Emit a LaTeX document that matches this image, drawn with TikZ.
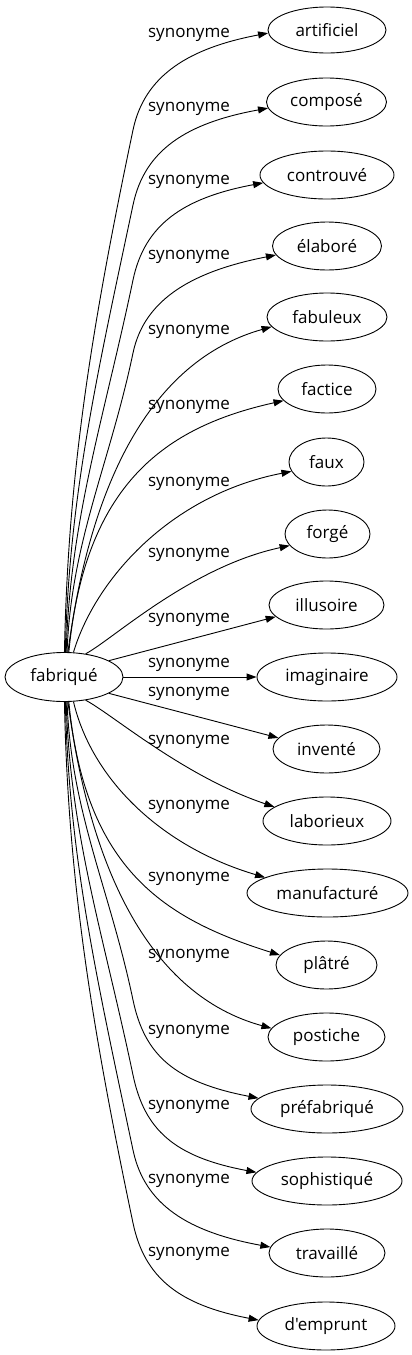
\documentclass[tikz,border=0pt]{standalone}
\usepackage{fontspec}
\newfontfamily\gv{Open Sans}
\usetikzlibrary{arrows.meta,shapes.geometric}
\begin{document}
\begin{tikzpicture}[x=1pt,y=-1pt,
  vert/.style={draw, ellipse, line width=0.9pt, inner sep=0pt, minimum height=48pt, font=\gv\fontsize{17}{20}\selectfont},
  lab/.style={inner sep=0pt, font=\gv\fontsize{17}{20}\selectfont},
  syn/.style={line width=0.9pt, -{Triangle[length=10pt,width=7pt]}}]
\useasboundingbox (0,0) rectangle (412,1355);
\node[vert, minimum width=118pt, minimum height=49pt] (f) at (64,677) {fabriqué};
\node[vert, minimum width=118pt, minimum height=46pt] (n1) at (327,30) {artificiel};
\node[vert, minimum width=120pt] (n2) at (326.5,102) {composé};
\node[vert, minimum width=134pt] (n3) at (327,175) {controuvé};
\node[vert, minimum width=109pt] (n4) at (327,246) {élaboré};
\node[vert, minimum width=120pt] (n5) at (327,317) {fabuleux};
\node[vert, minimum width=98pt] (n6) at (327,389) {factice};
\node[vert, minimum width=75pt] (n7) at (326.5,462) {faux};
\node[vert, minimum width=85pt] (n8) at (327.5,534) {forgé};
\node[vert, minimum width=115pt] (n9) at (326.5,605) {illusoire};
\node[vert, minimum width=140pt] (n10) at (327,677) {imaginaire};
\node[vert, minimum width=107pt] (n11) at (326.5,749) {inventé};
\node[vert, minimum width=128pt] (n12) at (327,821) {laborieux};
\node[vert, minimum width=161pt] (n13) at (327.5,893) {manufacturé};
\node[vert, minimum width=101pt] (n14) at (326.5,965) {plâtré};
\node[vert, minimum width=117pt] (n15) at (326.5,1037) {postiche};
\node[vert, minimum width=152pt] (n16) at (327,1109) {préfabriqué};
\node[vert, minimum width=150pt] (n17) at (327,1181) {sophistiqué};
\node[vert, minimum width=116pt] (n18) at (327,1253) {travaillé};
\node[vert, minimum width=138pt] (n19) at (326,1326) {d'emprunt};
% labels
\node[lab] (l1) at (189,35) {synonyme};
\node[lab] (l2) at (189,109) {synonyme};
\node[lab] (l3) at (189,182) {synonyme};
\node[lab] (l4) at (189,257) {synonyme};
\node[lab] (l5) at (189,332) {synonyme};
\node[lab] (l6) at (189,407) {synonyme};
\node[lab] (l7) at (189,484) {synonyme};
\node[lab] (l8) at (189,555) {synonyme};
\node[lab] (l9) at (189,620) {synonyme};
\node[lab] (l10) at (189,665) {synonyme};
\node[lab] (l11) at (189,694) {synonyme};
\node[lab] (l12) at (189,742) {synonyme};
\node[lab] (l13) at (189,807) {synonyme};
\node[lab] (l14) at (189,879) {synonyme};
\node[lab] (l15) at (189,956) {synonyme};
\node[lab] (l16) at (189,1032) {synonyme};
\node[lab] (l17) at (189,1107) {synonyme};
\node[lab] (l18) at (189,1181) {synonyme};
\node[lab] (l19) at (189,1254) {synonyme};
% edges
\draw[syn] (f.89) .. controls (68,475) and (91,330) .. (133,130) .. controls (144.5,75) and (189.5,48) .. (n1.183);
\draw[syn] (f.87) .. controls (69,497) and (97,375) .. (133,205) .. controls (144.5,150) and (186.5,123) .. (n2.186);
\draw[syn] (f.85) .. controls (70,520) and (103.6,420) .. (133,280) .. controls (144.5,225) and (182.5,198) .. (n3.187);
\draw[syn] (f.83) .. controls (71,542) and (110,463) .. (133,353) .. controls (144.5,298) and (194.5,271) .. (n4.190);
\draw[syn] (f.81) .. controls (90,484) and (150,361) .. (n5.190);
\draw[syn] (f.79) .. controls (85,484) and (165,427) .. (n6.195);
\draw[syn] (f.69) .. controls (95,580) and (170,495) .. (n7.195);
\draw[syn] (f.47) .. controls (112,640) and (190,567) .. (n8.197);
\draw[syn] (f.20) -- (n9.193);
\draw[syn] (f.east) -- (n10.west);
\draw[syn] (f.-20) -- (n11.167);
\draw[syn] (f.-47) .. controls (112,714) and (183,776) .. (n12.165.5);
\draw[syn] (f.-69) .. controls (92,780) and (162,847) .. (n13.166);
\draw[syn] (f.-79) .. controls (85,870) and (165,919) .. (n14.168);
\draw[syn] (f.-81) .. controls (90,870) and (150,995) .. (n15.171);
\draw[syn] (f.-83) .. controls (71,812) and (110,890) .. (133,1000) .. controls (144.5,1055) and (174.5,1082) .. (n16.171);
\draw[syn] (f.-85) .. controls (70,834) and (103.6,935) .. (133,1075) .. controls (144.5,1130) and (174.5,1157) .. (n17.173);
\draw[syn] (f.-87) .. controls (69,857) and (97,980) .. (133,1150) .. controls (144.5,1205) and (188.5,1232) .. (n18.174);
\draw[syn] (f.-89) .. controls (68,878) and (91,1023) .. (133,1223) .. controls (144.5,1278) and (179.5,1305) .. (n19.175);
\end{tikzpicture}
\end{document}
